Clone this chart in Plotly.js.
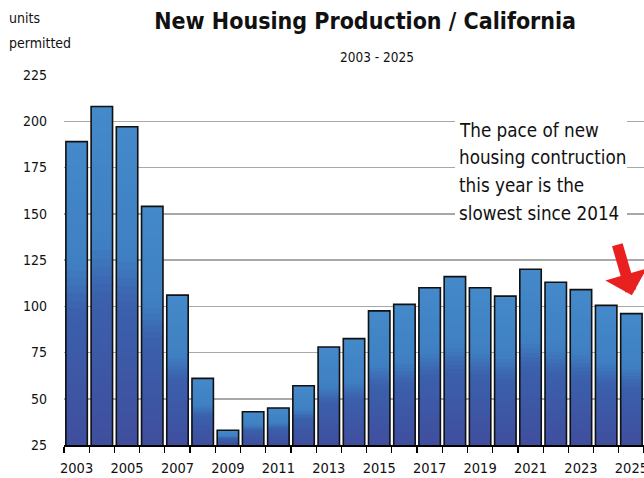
<!DOCTYPE html>
<html>
<head>
<meta charset="utf-8">
<script src="https://cdn.plot.ly/plotly-3.0.1.min.js"></script>
<style>html,body{margin:0;padding:0;background:#fff;}#chart{width:644px;height:478px;}</style>
</head>
<body>
<div id="chart"></div>
<script>
// ---- data ----
const years = [2003,2004,2005,2006,2007,2008,2009,2010,2011,2012,2013,2014,2015,2016,2017,2018,2019,2020,2021,2022,2023,2024,2025];
const unitsPermitted = [189,208,197,154,106,61,33,43,45,57,78,82.5,97.5,101,110,116,110,105.5,120,113,109,100.5,96];
const yTicks = [25,50,75,100,125,150,175,200,225];
const xTickYears = [2003,2005,2007,2009,2011,2013,2015,2017,2019,2021,2023,2025];
const noteLines = ['The pace of new', 'housing contruction', 'this year is the', 'slowest since 2014'];

const FONT = '"DejaVu Sans Condensed", "Liberation Sans Narrow", sans-serif';
const base = 25;

// gradient via layered bars (top light -> bottom dark)
const stops = [[0,[68,137,201]],[0.4,[63,128,195]],[0.56,[59,96,172]],[1,[63,79,158]]];
function colorAt(t){
  for (let i=1;i<stops.length;i++){
    if (t<=stops[i][0]){
      const a=stops[i-1], b=stops[i], u=(t-a[0])/(b[0]-a[0]);
      return a[1].map((v,j)=>Math.round(v+(b[1][j]-v)*u));
    }
  }
  return stops[stops.length-1][1];
}
const N = 40;
const traces = [];
for (let k = 0; k < N; k++) {
  const f = 1 - k / N;
  const c = colorAt(k / (N - 1));
  traces.push({
    type: 'bar', x: years,
    y: unitsPermitted.map(v => base + (v - base) * f),
    width: 0.85,
    marker: {color: `rgb(${c.join(',')})`, line: {width: 0}},
    hoverinfo: 'skip', showlegend: false
  });
}
traces.push({
  type: 'bar', x: years, y: unitsPermitted, width: 0.85,
  marker: {color: 'rgba(0,0,0,0)', line: {color: '#111', width: 1.6}},
  showlegend: false
});

const noteAnns = noteLines.map((t, i) => ({
  xref: 'paper', yref: 'paper', x: 393/580, y: 1, yshift: -(55 + i * 27.7),
  xanchor: 'left', yanchor: 'middle', text: t, align: 'left', showarrow: false,
  font: {family: FONT, size: 18.7, color: '#111'}
}));

const layout = {
  width: 644, height: 478,
  margin: {l: 64, r: 0, t: 75, b: 33},
  paper_bgcolor: '#fff', plot_bgcolor: '#fff',
  barmode: 'overlay',
  font: {family: FONT, color: '#111'},
  title: {
    text: '<b>New Housing Production / California</b>',
    font: {family: FONT, size: 23, color: '#111'},
    x: 0.567, xanchor: 'center', y: 0.957, yanchor: 'middle'
  },
  xaxis: {
    range: [2002.5, 2025.5],
    tickmode: 'array', tickvals: xTickYears, ticktext: xTickYears.map(String),
    ticks: '', showgrid: false, zeroline: false,
    showline: true, linecolor: '#000', linewidth: 1.5,
    ticklabeloverflow: 'allow', ticklabelstandoff: 9,
    tickfont: {family: FONT, size: 14.5, color: '#111'},
    minor: {tick0: 2002.5, dtick: 1, ticks: 'outside', ticklen: 6, tickcolor: '#000', tickwidth: 1.2, showgrid: false},
    fixedrange: true
  },
  yaxis: {
    range: [25, 225],
    tickmode: 'array', tickvals: yTicks,
    showgrid: true, gridcolor: '#a8a8a8', gridwidth: 1.5,
    zeroline: false, showline: false, ticks: '',
    ticklabelstandoff: 16,
    tickfont: {family: FONT, size: 14, color: '#111'},
    fixedrange: true
  },
  shapes: [
    {type: 'rect', xref: 'paper', yref: 'paper', layer: 'above',
     x0: 391/580, x1: 563/580, y0: 1 - 150/370, y1: 1 - 42/370,
     fillcolor: '#fff', line: {width: 0}}
  ],
  annotations: [
    {xref: 'paper', yref: 'paper', x: 0, y: 1, xshift: -57, yshift: 57, xanchor: 'left', yanchor: 'middle',
     text: 'units', align: 'left', showarrow: false,
     font: {family: FONT, size: 14, color: '#111'}},
    {xref: 'paper', yref: 'paper', x: 0, y: 1, xshift: -57, yshift: 32, xanchor: 'left', yanchor: 'middle',
     text: 'permitted', align: 'left', showarrow: false,
     font: {family: FONT, size: 14, color: '#111'}},
    {xref: 'paper', yref: 'paper', x: 0.5, y: 1, xshift: 23, yshift: 18, xanchor: 'center', yanchor: 'middle',
     text: '2003 - 2025', showarrow: false,
     font: {family: FONT, size: 13.5, color: '#111'}},
    ...noteAnns,
    {xref: 'x', yref: 'y', x: 2025.02, y: 106, ax: -15, ay: -52, text: '',
     showarrow: true, arrowhead: 1, arrowsize: 0.65, arrowwidth: 11, arrowcolor: '#e8201f', standoff: 0}
  ]
};

Plotly.newPlot('chart', traces, layout, {displayModeBar: false, staticPlot: true});
</script>
</body>
</html>
